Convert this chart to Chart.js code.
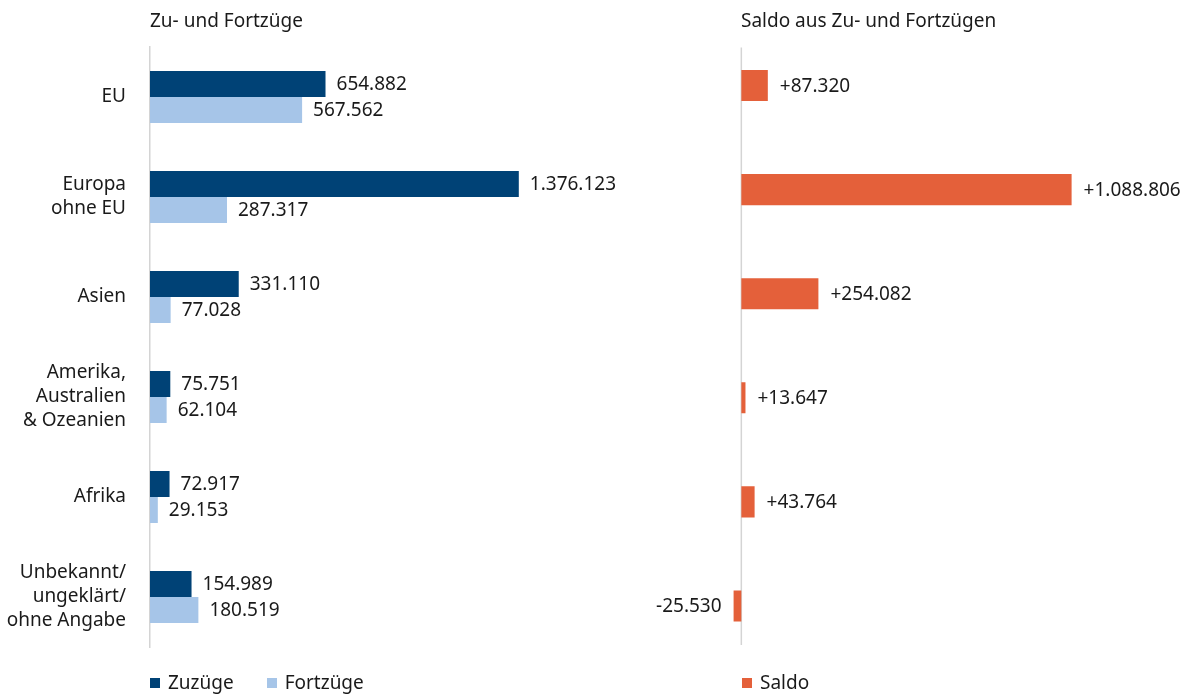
<!DOCTYPE html>
<html lang="de">
<head>
    <meta charset="UTF-8">
    <title>Zu- und Fortzüge nach Herkunftsregion</title>
    <script src="https://cdn.jsdelivr.net/npm/chart.js"></script>
    <style>
        body {
            margin: 0;
            background-color: white;
            font-family: "Noto Sans", sans-serif;
            color: #1a1a1a;
        }
        .page {
            position: relative;
            width: 1189px;
            height: 695px;
            overflow: hidden;
        }
        .box {
            position: absolute;
            top: 0;
            height: 695px;
        }
        .title {
            position: absolute;
            top: 8px;
            font-size: 19px;
            line-height: 24px;
            white-space: nowrap;
        }
        .legend {
            position: absolute;
            top: 670px;
            font-size: 19px;
            line-height: 24px;
            white-space: nowrap;
        }
        .legend span.sw {
            display: inline-block;
            width: 10px;
            height: 10px;
            margin-right: 8px;
            vertical-align: 1px;
        }
        .legend span.item {
            margin-right: 28px;
        }
    </style>
</head>
<body>
<div class="page">
    <div class="box" style="left:0; width:650px;"><canvas id="moveChart"></canvas></div>
    <div class="box" style="left:600px; width:589px;"><canvas id="saldoChart"></canvas></div>

    <div class="title" style="left:150px;">Zu- und Fortzüge</div>
    <div class="title" style="left:741px;">Saldo aus Zu- und Fortzügen</div>

    <div class="legend" style="left:150px;">
        <span class="item"><span class="sw" style="background:#004276"></span>Zuzüge</span>
        <span class="item"><span class="sw" style="background:#a6c5e8"></span>Fortzüge</span>
    </div>
    <div class="legend" style="left:742px;">
        <span class="item"><span class="sw" style="background:#e4603a"></span>Saldo</span>
    </div>
</div>

<script>
    const regions = [
        ['EU'],
        ['Europa', 'ohne EU'],
        ['Asien'],
        ['Amerika,', 'Australien', '& Ozeanien'],
        ['Afrika'],
        ['Unbekannt/', 'ungeklärt/', 'ohne Angabe']
    ];
    const zuzuege = [654882, 1376123, 331110, 75751, 72917, 154989];
    const fortzuege = [567562, 287317, 77028, 62104, 29153, 180519];
    const saldo = [87320, 1088806, 254082, 13647, 43764, -25530];

    const FONT = '"Noto Sans", sans-serif';
    const TEXT = '#1a1a1a';
    const AXIS = '#d4d4d4';

    // 1234567 -> "1.234.567"
    function fmt(v, sign) {
        const s = String(Math.abs(v)).replace(/\B(?=(\d{3})+(?!\d))/g, '.');
        if (v < 0) return '-' + s;
        return (sign ? '+' : '') + s;
    }

    // Wertebeschriftung am Balkenende
    const valueLabels = {
        id: 'valueLabels',
        afterDatasetsDraw(chart, args, opts) {
            const ctx = chart.ctx;
            ctx.save();
            ctx.font = '19px ' + FONT;
            ctx.fillStyle = TEXT;
            ctx.textBaseline = 'middle';
            chart.data.datasets.forEach((ds, i) => {
                chart.getDatasetMeta(i).data.forEach((bar, j) => {
                    const v = ds.data[j];
                    const txt = fmt(v, opts.sign);
                    if (v < 0) {
                        ctx.textAlign = 'right';
                        ctx.fillText(txt, bar.x - opts.gap, bar.y + 1);
                    } else {
                        ctx.textAlign = 'left';
                        ctx.fillText(txt, bar.x + opts.gap, bar.y + 1);
                    }
                });
            });
            ctx.restore();
        }
    };

    // Nulllinie im Saldo-Diagramm
    const zeroLine = {
        id: 'zeroLine',
        beforeDatasetsDraw(chart) {
            const ctx = chart.ctx;
            const x = chart.scales.x.getPixelForValue(0);
            ctx.save();
            ctx.strokeStyle = AXIS;
            ctx.lineWidth = 1.5;
            ctx.beginPath();
            ctx.moveTo(x, chart.chartArea.top + 14);
            ctx.lineTo(x, chart.chartArea.bottom - 13);
            ctx.stroke();
            ctx.restore();
        }
    };

    Chart.defaults.font.family = FONT;
    Chart.defaults.color = TEXT;

    new Chart(document.getElementById('moveChart'), {
        type: 'bar',
        data: {
            labels: regions,
            datasets: [
                { label: 'Zuzüge', data: zuzuege, backgroundColor: '#004276' },
                { label: 'Fortzüge', data: fortzuege, backgroundColor: '#a6c5e8' }
            ]
        },
        options: {
            indexAxis: 'y',
            responsive: true,
            maintainAspectRatio: false,
            animation: false,
            layout: { padding: { top: 47, bottom: 48, right: 17.6, left: 0 } },
            datasets: { bar: { categoryPercentage: 0.52, barPercentage: 1 } },
            scales: {
                x: { display: false, min: 0, max: 1800000 },
                y: {
                    grid: { display: false, drawTicks: false },
                    border: { display: true, color: AXIS, width: 1.5 },
                    ticks: {
                        padding: 24,
                        color: TEXT,
                        font: { size: 19, lineHeight: 24 / 19 }
                    },
                    afterFit(scale) {
                        scale.width = 150;
                        scale.paddingTop = 0;
                        scale.paddingBottom = 0;
                    }
                }
            },
            plugins: {
                legend: { display: false },
                tooltip: { enabled: false },
                valueLabels: { gap: 11, sign: false }
            }
        },
        plugins: [valueLabels]
    });

    new Chart(document.getElementById('saldoChart'), {
        type: 'bar',
        data: {
            labels: regions,
            datasets: [
                { label: 'Saldo', data: saldo, backgroundColor: '#e4603a' }
            ]
        },
        options: {
            indexAxis: 'y',
            responsive: true,
            maintainAspectRatio: false,
            animation: false,
            layout: { padding: { top: 33.5, bottom: 37, left: 20, right: 23 } },
            datasets: { bar: { categoryPercentage: 0.298, barPercentage: 1 } },
            scales: {
                x: { display: false, min: -400000, max: 1400000 },
                y: { display: false }
            },
            plugins: {
                legend: { display: false },
                tooltip: { enabled: false },
                valueLabels: { gap: 12, sign: true }
            }
        },
        plugins: [valueLabels, zeroLine]
    });
</script>
</body>
</html>
